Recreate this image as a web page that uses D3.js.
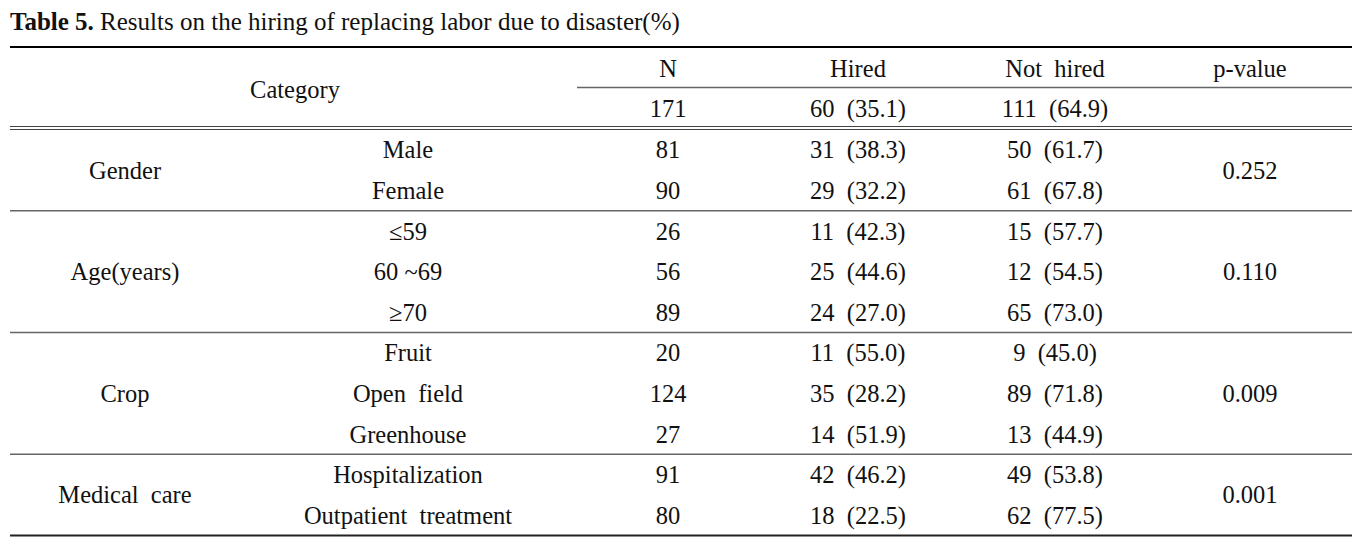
<!DOCTYPE html>
<html>
<head>
<meta charset="utf-8">
<script src="https://cdn.jsdelivr.net/npm/d3@7"></script>
<style>
  body { margin: 0; background: #fff; }
  svg text { font-family: "Liberation Serif", "Times New Roman", serif; fill: #111; white-space: pre; }
</style>
</head>
<body>
<div id="table"></div>
<script>
// table values
const groups = ["Gender", "Age(years)", "Crop", "Medical  care"];
const subCategories = [
  ["Male", "Female"],
  ["≤59", "60 ~69", "≥70"],
  ["Fruit", "Open  field", "Greenhouse"],
  ["Hospitalization", "Outpatient  treatment"]
];
const nValues = [81, 90, 26, 56, 89, 20, 124, 27, 91, 80];
const hiredCounts = [31, 29, 11, 25, 24, 11, 35, 14, 42, 18];
const hiredPct = [38.3, 32.2, 42.3, 44.6, 27.0, 55.0, 28.2, 51.9, 46.2, 22.5];
const notHiredCounts = [50, 61, 15, 12, 65, 9, 89, 13, 49, 62];
const notHiredPct = [61.7, 67.8, 57.7, 54.5, 73.0, 45.0, 71.8, 44.9, 53.8, 77.5];
const pValues = ["0.252", "0.110", "0.009", "0.001"];
const totalRow = [171, 60, 35.1, 111, 64.9];
const headers = ["N", "Hired", "Not  hired", "p-value"];

const width = 1371, height = 537;
const left = 10, right = 1352;

const svg = d3.select("#table").append("svg")
  .attr("width", width)
  .attr("height", height);

// title
const title = svg.append("text")
  .attr("x", left)
  .attr("y", 30)
  .attr("font-size", 25);
title.append("tspan").attr("font-weight", "bold").text("Table 5.");
title.append("tspan").text(" Results on the hiring of replacing labor due to disaster(%)");

// columns
const cols = ["group", "sub", "n", "hired", "notHired", "p"];
const x = d3.scaleOrdinal()
  .domain(cols)
  .range([125, 408, 668, 858, 1055, 1250]);

// rows
const rowIdx = d3.range(nValues.length);
const y = d3.scaleBand()
  .domain(rowIdx)
  .range([129.5, 535.5]);

const fmt = d3.format(".1f");
const fs = 24.5;

// header
const head = svg.append("g").attr("id", "header");
head.append("text")
  .attr("x", 295)
  .attr("y", 89)
  .attr("dy", "0.35em")
  .attr("text-anchor", "middle")
  .attr("font-size", fs)
  .text("Category");
head.selectAll("text.h")
  .data(headers)
  .join("text")
  .attr("class", "h")
  .attr("x", (d, i) => x(cols[i + 2]))
  .attr("y", 68)
  .attr("dy", "0.35em")
  .attr("text-anchor", "middle")
  .attr("font-size", fs)
  .text(d => d);
const totals = [
  String(totalRow[0]),
  totalRow[1] + "  (" + fmt(totalRow[2]) + ")",
  totalRow[3] + "  (" + fmt(totalRow[4]) + ")"
];
head.selectAll("text.t")
  .data(totals)
  .join("text")
  .attr("class", "t")
  .attr("x", (d, i) => x(cols[i + 2]))
  .attr("y", 108)
  .attr("dy", "0.35em")
  .attr("text-anchor", "middle")
  .attr("font-size", fs)
  .text(d => d);

// body rows
const flatSubs = subCategories.flat();
const rows = rowIdx.map(i => ({
  sub: flatSubs[i],
  n: String(nValues[i]),
  hired: hiredCounts[i] + "  (" + fmt(hiredPct[i]) + ")",
  notHired: notHiredCounts[i] + "  (" + fmt(notHiredPct[i]) + ")",
  i: i
}));

const body = svg.append("g").attr("id", "body");
["sub", "n", "hired", "notHired"].forEach(key => {
  body.selectAll("text." + key)
    .data(rows)
    .join("text")
    .attr("class", key)
    .attr("x", x(key))
    .attr("y", d => y(d.i) + y.bandwidth() / 2)
    .attr("dy", "0.35em")
    .attr("text-anchor", "middle")
    .attr("font-size", fs)
    .text(d => d[key]);
});

// group spans
let start = 0;
const spans = subCategories.map((s, g) => {
  const o = { name: groups[g], p: pValues[g], from: start, to: start + s.length - 1 };
  start += s.length;
  return o;
});
const gy = d => (y(d.from) + y(d.to) + y.bandwidth()) / 2;

body.selectAll("text.group")
  .data(spans)
  .join("text")
  .attr("class", "group")
  .attr("x", x("group"))
  .attr("y", gy)
  .attr("dy", "0.35em")
  .attr("text-anchor", "middle")
  .attr("font-size", fs)
  .text(d => d.name);
body.selectAll("text.p")
  .data(spans)
  .join("text")
  .attr("class", "p")
  .attr("x", x("p"))
  .attr("y", gy)
  .attr("dy", "0.35em")
  .attr("text-anchor", "middle")
  .attr("font-size", fs)
  .text(d => d.p);

// rules
const rules = svg.append("g").attr("id", "rules");
rules.append("line")
  .attr("x1", left).attr("x2", right)
  .attr("y1", 47).attr("y2", 47)
  .attr("stroke", "#000").attr("stroke-width", 2.2);
rules.append("line")
  .attr("x1", 577).attr("x2", right)
  .attr("y1", 87.5).attr("y2", 87.5)
  .attr("stroke", "#666").attr("stroke-width", 1.4);
[126.5, 129.5].forEach(v => {
  rules.append("line")
    .attr("x1", left).attr("x2", right)
    .attr("y1", v).attr("y2", v)
    .attr("stroke", "#444").attr("stroke-width", 1.1);
});
rules.selectAll("line.sep")
  .data(spans.slice(0, -1))
  .join("line")
  .attr("class", "sep")
  .attr("x1", left).attr("x2", right)
  .attr("y1", d => y(d.to) + y.bandwidth())
  .attr("y2", d => y(d.to) + y.bandwidth())
  .attr("stroke", "#666").attr("stroke-width", 1.5);
rules.append("line")
  .attr("x1", left).attr("x2", right)
  .attr("y1", y.range()[1]).attr("y2", y.range()[1])
  .attr("stroke", "#222").attr("stroke-width", 2);
</script>
</body>
</html>
